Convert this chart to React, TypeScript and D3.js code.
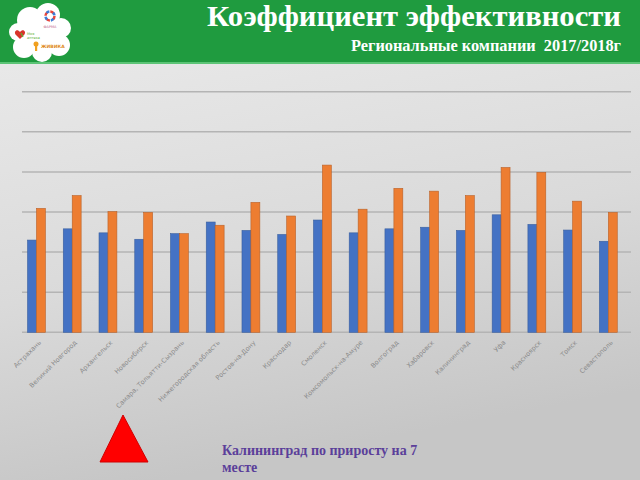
import React from 'react';
import * as d3 from 'd3';

const categories = [
  'Астрахань',
  'Великий Новгород',
  'Архангельск',
  'Новосибирск',
  'Самара, Тольятти-Сызрань',
  'Нижегородская область',
  'Ростов-на-Дону',
  'Краснодар',
  'Смоленск',
  'Комсомольск-на-Амуре',
  'Волгоград',
  'Хабаровск',
  'Калининград',
  'Уфа',
  'Красноярск',
  'Томск',
  'Севастополь',
];
const series = ['2017', '2018'];
const values2017 = [2.30, 2.58, 2.48, 2.32, 2.46, 2.75, 2.54, 2.44, 2.80, 2.48, 2.58, 2.62, 2.54, 2.93, 2.69, 2.55, 2.27];
const values2018 = [3.09, 3.41, 3.01, 2.99, 2.46, 2.67, 3.24, 2.90, 4.17, 3.07, 3.59, 3.52, 3.41, 4.11, 3.99, 3.27, 2.99];
const gridTicks = [0, 1, 2, 3, 4, 5, 6];
const seriesColors = ['#4472c4', '#ed7d31'];
const seriesStroke = ['#3a5f9e', '#b9622a'];

const W = 640;
const H = 480;

export default function App() {
  const x = d3.scaleBand<string>().domain(categories).range([18.6, 626.2]).paddingInner(0.5).paddingOuter(0.25);
  const xs = d3.scaleBand<string>().domain(series).range([0, x.bandwidth()]);
  const y = d3.scaleLinear().domain([0, 6]).range([332.3, 91.7]);
  const data = [values2017, values2018];

  return (
    <div style={{ position: 'fixed', left: 0, top: 0, width: W, height: H }}>
      <svg width={W} height={H} viewBox={`0 0 ${W} ${H}`} style={{ display: 'block' }}>
        <defs>
          <linearGradient id="bg" x1="0" y1="0" x2="0.25" y2="1">
            <stop offset="0" stopColor="#ececec" />
            <stop offset="0.6" stopColor="#dadada" />
            <stop offset="1" stopColor="#c6c6c6" />
          </linearGradient>
        </defs>
        <rect x={0} y={0} width={W} height={H} fill="url(#bg)" />
        {/* header */}
        <rect x={0} y={0} width={W} height={63} fill="#1f9b3f" />
        <rect x={0} y={62} width={W} height={2} fill="#5cc476" />

        {/* logo cloud */}
        <g fill="#ffffff">
          <circle cx={30} cy={20} r={13} />
          <circle cx={48} cy={15} r={12} />
          <circle cx={61} cy={28} r={10} />
          <circle cx={59} cy={45} r={11} />
          <circle cx={42} cy={52} r={10} />
          <circle cx={24} cy={47} r={11} />
          <circle cx={18} cy={32} r={9} />
          <circle cx={40} cy={33} r={17} />
        </g>
        <circle cx={50} cy={16} r={4.5} fill="none" stroke="#e8453c" strokeWidth={2.5} strokeDasharray="4 3" />
        <circle cx={50} cy={16} r={4.5} fill="none" stroke="#3b7dd8" strokeWidth={2.5} strokeDasharray="3 4" strokeDashoffset={4} />
        <text x={50} y={28} fontSize={3.5} fill="#c0608a" textAnchor="middle" fontFamily="DejaVu Sans">ФАРМА</text>
        <path d="M20,32 c-3,-4 -7,0 -4,3 l4,4 l4,-4 c3,-3 -1,-7 -4,-3z" fill="#d9342b" />
        <path d="M21,33 l2,4" stroke="#5ab031" strokeWidth={1.2} />
        <text x={27} y={35} fontSize={3.5} fill="#5ab031" fontFamily="DejaVu Sans">Моя</text>
        <text x={27} y={39} fontSize={3.5} fill="#5ab031" fontFamily="DejaVu Sans">аптека</text>
        <circle cx={36} cy={44} r={2.5} fill="#f0a020" />
        <rect x={35} y={46} width={2.2} height={5} fill="#f0a020" />
        <text x={41} y={48} fontSize={4.5} fill="#e08a20" fontWeight="bold" fontFamily="DejaVu Sans">ЖИВИКА</text>

        <text x={621} y={26} textAnchor="end" fill="#ffffff" fontFamily="'Liberation Serif', serif" fontWeight="bold" fontSize={29} textLength={414} lengthAdjust="spacingAndGlyphs">
          Коэффициент эффективности
        </text>
        <text x={621} y={51} textAnchor="end" fill="#ffffff" fontFamily="'Liberation Serif', serif" fontWeight="bold" fontSize={16} textLength={270} lengthAdjust="spacingAndGlyphs" style={{ whiteSpace: 'pre' }}>
          {'Региональные компании  2017/2018г'}
        </text>

        {/* gridlines */}
        {gridTicks.map((t) => (
          <line key={t} x1={22} x2={631} y1={y(t)} y2={y(t)} stroke="#b4b4b4" strokeWidth={1.5} />
        ))}

        {/* bars */}
        {categories.map((c, i) => (
          <g key={c} transform={`translate(${x(c)},0)`}>
            {series.map((s, j) => (
              <rect
                key={s}
                x={xs(s)}
                y={y(data[j][i])}
                width={xs.bandwidth()}
                height={y(0) - y(data[j][i])}
                fill={seriesColors[j]}
                stroke={seriesStroke[j]}
                strokeWidth={0.6}
              />
            ))}
          </g>
        ))}

        {/* category labels */}
        {categories.map((c) => {
          const cx = (x(c) as number) + x.bandwidth() / 2;
          return (
            <text
              key={c}
              transform={`translate(${cx + 5},${343}) rotate(-45)`}
              textAnchor="end"
              fontSize={6.5}
              fill="#8a8a8a"
              fontFamily="'DejaVu Sans', sans-serif"
            >
              {c}
            </text>
          );
        })}

        {/* triangle */}
        <polygon points="123,415 100,462 148,462" fill="#ff0000" stroke="#d00000" strokeWidth={1} />

        <text x={222} y={455} fill="#5b3f9a" fontFamily="'Liberation Serif', serif" fontWeight="bold" fontSize={14}>
          Калининград по приросту на 7
        </text>
        <text x={222} y={471.5} fill="#5b3f9a" fontFamily="'Liberation Serif', serif" fontWeight="bold" fontSize={14}>
          месте
        </text>
      </svg>
    </div>
  );
}
